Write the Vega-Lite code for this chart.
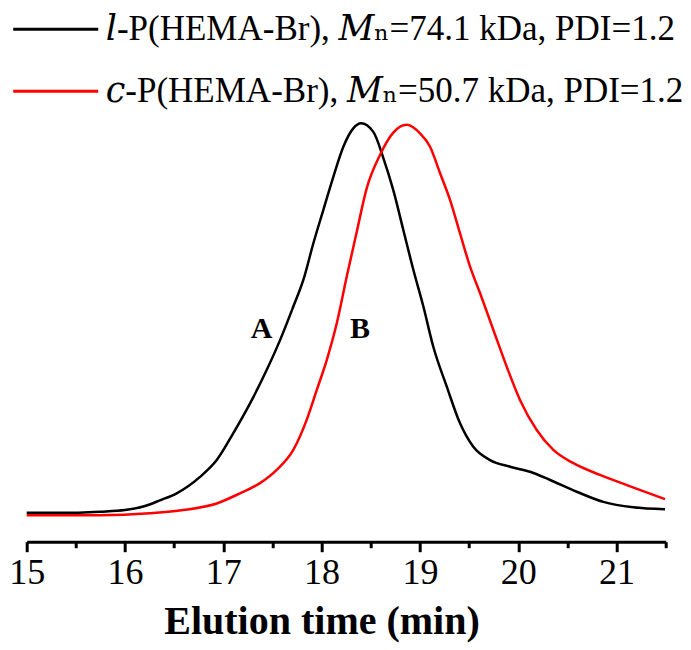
{
  "$schema": "https://vega.github.io/schema/vega-lite/v6.json",
  "width": 639,
  "height": 431.7,
  "autosize": {"type": "none"},
  "padding": {"left": 26.7, "top": 110, "right": 25.3, "bottom": 108.3},
  "background": "white",
  "config": {"view": {"stroke": null}, "font": "Liberation Serif"},
  "datasets": {
    "curves": [
      {"series": "𝑙-P(HEMA-Br), 𝑀ₙ=74.1 kDa, PDI=1.2", "t": 15.0, "v": 0.003},
      {"series": "𝑙-P(HEMA-Br), 𝑀ₙ=74.1 kDa, PDI=1.2", "t": 15.34, "v": 0.003},
      {"series": "𝑙-P(HEMA-Br), 𝑀ₙ=74.1 kDa, PDI=1.2", "t": 15.746, "v": 0.006},
      {"series": "𝑙-P(HEMA-Br), 𝑀ₙ=74.1 kDa, PDI=1.2", "t": 16.0, "v": 0.010},
      {"series": "𝑙-P(HEMA-Br), 𝑀ₙ=74.1 kDa, PDI=1.2", "t": 16.186, "v": 0.019},
      {"series": "𝑙-P(HEMA-Br), 𝑀ₙ=74.1 kDa, PDI=1.2", "t": 16.356, "v": 0.035},
      {"series": "𝑙-P(HEMA-Br), 𝑀ₙ=74.1 kDa, PDI=1.2", "t": 16.526, "v": 0.053},
      {"series": "𝑙-P(HEMA-Br), 𝑀ₙ=74.1 kDa, PDI=1.2", "t": 16.763, "v": 0.095},
      {"series": "𝑙-P(HEMA-Br), 𝑀ₙ=74.1 kDa, PDI=1.2", "t": 16.933, "v": 0.138},
      {"series": "𝑙-P(HEMA-Br), 𝑀ₙ=74.1 kDa, PDI=1.2", "t": 17.102, "v": 0.207},
      {"series": "𝑙-P(HEMA-Br), 𝑀ₙ=74.1 kDa, PDI=1.2", "t": 17.272, "v": 0.283},
      {"series": "𝑙-P(HEMA-Br), 𝑀ₙ=74.1 kDa, PDI=1.2", "t": 17.442, "v": 0.369},
      {"series": "𝑙-P(HEMA-Br), 𝑀ₙ=74.1 kDa, PDI=1.2", "t": 17.577, "v": 0.445},
      {"series": "𝑙-P(HEMA-Br), 𝑀ₙ=74.1 kDa, PDI=1.2", "t": 17.712, "v": 0.531},
      {"series": "𝑙-P(HEMA-Br), 𝑀ₙ=74.1 kDa, PDI=1.2", "t": 17.814, "v": 0.599},
      {"series": "𝑙-P(HEMA-Br), 𝑀ₙ=74.1 kDa, PDI=1.2", "t": 17.916, "v": 0.693},
      {"series": "𝑙-P(HEMA-Br), 𝑀ₙ=74.1 kDa, PDI=1.2", "t": 18.017, "v": 0.778},
      {"series": "𝑙-P(HEMA-Br), 𝑀ₙ=74.1 kDa, PDI=1.2", "t": 18.119, "v": 0.863},
      {"series": "𝑙-P(HEMA-Br), 𝑀ₙ=74.1 kDa, PDI=1.2", "t": 18.221, "v": 0.940},
      {"series": "𝑙-P(HEMA-Br), 𝑀ₙ=74.1 kDa, PDI=1.2", "t": 18.322, "v": 0.987},
      {"series": "𝑙-P(HEMA-Br), 𝑀ₙ=74.1 kDa, PDI=1.2", "t": 18.401, "v": 1.0},
      {"series": "𝑙-P(HEMA-Br), 𝑀ₙ=74.1 kDa, PDI=1.2", "t": 18.526, "v": 0.978},
      {"series": "𝑙-P(HEMA-Br), 𝑀ₙ=74.1 kDa, PDI=1.2", "t": 18.628, "v": 0.911},
      {"series": "𝑙-P(HEMA-Br), 𝑀ₙ=74.1 kDa, PDI=1.2", "t": 18.729, "v": 0.829},
      {"series": "𝑙-P(HEMA-Br), 𝑀ₙ=74.1 kDa, PDI=1.2", "t": 18.831, "v": 0.727},
      {"series": "𝑙-P(HEMA-Br), 𝑀ₙ=74.1 kDa, PDI=1.2", "t": 18.933, "v": 0.625},
      {"series": "𝑙-P(HEMA-Br), 𝑀ₙ=74.1 kDa, PDI=1.2", "t": 19.035, "v": 0.531},
      {"series": "𝑙-P(HEMA-Br), 𝑀ₙ=74.1 kDa, PDI=1.2", "t": 19.136, "v": 0.428},
      {"series": "𝑙-P(HEMA-Br), 𝑀ₙ=74.1 kDa, PDI=1.2", "t": 19.273, "v": 0.326},
      {"series": "𝑙-P(HEMA-Br), 𝑀ₙ=74.1 kDa, PDI=1.2", "t": 19.408, "v": 0.232},
      {"series": "𝑙-P(HEMA-Br), 𝑀ₙ=74.1 kDa, PDI=1.2", "t": 19.543, "v": 0.172},
      {"series": "𝑙-P(HEMA-Br), 𝑀ₙ=74.1 kDa, PDI=1.2", "t": 19.713, "v": 0.138},
      {"series": "𝑙-P(HEMA-Br), 𝑀ₙ=74.1 kDa, PDI=1.2", "t": 19.917, "v": 0.121},
      {"series": "𝑙-P(HEMA-Br), 𝑀ₙ=74.1 kDa, PDI=1.2", "t": 20.12, "v": 0.108},
      {"series": "𝑙-P(HEMA-Br), 𝑀ₙ=74.1 kDa, PDI=1.2", "t": 20.324, "v": 0.087},
      {"series": "𝑙-P(HEMA-Br), 𝑀ₙ=74.1 kDa, PDI=1.2", "t": 20.595, "v": 0.057},
      {"series": "𝑙-P(HEMA-Br), 𝑀ₙ=74.1 kDa, PDI=1.2", "t": 20.866, "v": 0.031},
      {"series": "𝑙-P(HEMA-Br), 𝑀ₙ=74.1 kDa, PDI=1.2", "t": 21.171, "v": 0.017},
      {"series": "𝑙-P(HEMA-Br), 𝑀ₙ=74.1 kDa, PDI=1.2", "t": 21.493, "v": 0.012},
      {"series": "𝑐-P(HEMA-Br), 𝑀ₙ=50.7 kDa, PDI=1.2", "t": 15.0, "v": -0.003},
      {"series": "𝑐-P(HEMA-Br), 𝑀ₙ=50.7 kDa, PDI=1.2", "t": 15.746, "v": -0.003},
      {"series": "𝑐-P(HEMA-Br), 𝑀ₙ=50.7 kDa, PDI=1.2", "t": 16.254, "v": 0.002},
      {"series": "𝑐-P(HEMA-Br), 𝑀ₙ=50.7 kDa, PDI=1.2", "t": 16.593, "v": 0.010},
      {"series": "𝑐-P(HEMA-Br), 𝑀ₙ=50.7 kDa, PDI=1.2", "t": 16.933, "v": 0.027},
      {"series": "𝑐-P(HEMA-Br), 𝑀ₙ=50.7 kDa, PDI=1.2", "t": 17.17, "v": 0.053},
      {"series": "𝑐-P(HEMA-Br), 𝑀ₙ=50.7 kDa, PDI=1.2", "t": 17.373, "v": 0.079},
      {"series": "𝑐-P(HEMA-Br), 𝑀ₙ=50.7 kDa, PDI=1.2", "t": 17.543, "v": 0.113},
      {"series": "𝑐-P(HEMA-Br), 𝑀ₙ=50.7 kDa, PDI=1.2", "t": 17.712, "v": 0.164},
      {"series": "𝑐-P(HEMA-Br), 𝑀ₙ=50.7 kDa, PDI=1.2", "t": 17.848, "v": 0.241},
      {"series": "𝑐-P(HEMA-Br), 𝑀ₙ=50.7 kDa, PDI=1.2", "t": 17.95, "v": 0.317},
      {"series": "𝑐-P(HEMA-Br), 𝑀ₙ=50.7 kDa, PDI=1.2", "t": 18.052, "v": 0.394},
      {"series": "𝑐-P(HEMA-Br), 𝑀ₙ=50.7 kDa, PDI=1.2", "t": 18.154, "v": 0.488},
      {"series": "𝑐-P(HEMA-Br), 𝑀ₙ=50.7 kDa, PDI=1.2", "t": 18.255, "v": 0.607},
      {"series": "𝑐-P(HEMA-Br), 𝑀ₙ=50.7 kDa, PDI=1.2", "t": 18.357, "v": 0.722},
      {"series": "𝑐-P(HEMA-Br), 𝑀ₙ=50.7 kDa, PDI=1.2", "t": 18.459, "v": 0.834},
      {"series": "𝑐-P(HEMA-Br), 𝑀ₙ=50.7 kDa, PDI=1.2", "t": 18.594, "v": 0.919},
      {"series": "𝑐-P(HEMA-Br), 𝑀ₙ=50.7 kDa, PDI=1.2", "t": 18.729, "v": 0.976},
      {"series": "𝑐-P(HEMA-Br), 𝑀ₙ=50.7 kDa, PDI=1.2", "t": 18.866, "v": 0.996},
      {"series": "𝑐-P(HEMA-Br), 𝑀ₙ=50.7 kDa, PDI=1.2", "t": 19.001, "v": 0.974},
      {"series": "𝑐-P(HEMA-Br), 𝑀ₙ=50.7 kDa, PDI=1.2", "t": 19.103, "v": 0.94},
      {"series": "𝑐-P(HEMA-Br), 𝑀ₙ=50.7 kDa, PDI=1.2", "t": 19.205, "v": 0.872},
      {"series": "𝑐-P(HEMA-Br), 𝑀ₙ=50.7 kDa, PDI=1.2", "t": 19.306, "v": 0.804},
      {"series": "𝑐-P(HEMA-Br), 𝑀ₙ=50.7 kDa, PDI=1.2", "t": 19.408, "v": 0.718},
      {"series": "𝑐-P(HEMA-Br), 𝑀ₙ=50.7 kDa, PDI=1.2", "t": 19.51, "v": 0.633},
      {"series": "𝑐-P(HEMA-Br), 𝑀ₙ=50.7 kDa, PDI=1.2", "t": 19.612, "v": 0.565},
      {"series": "𝑐-P(HEMA-Br), 𝑀ₙ=50.7 kDa, PDI=1.2", "t": 19.747, "v": 0.471},
      {"series": "𝑐-P(HEMA-Br), 𝑀ₙ=50.7 kDa, PDI=1.2", "t": 19.883, "v": 0.377},
      {"series": "𝑐-P(HEMA-Br), 𝑀ₙ=50.7 kDa, PDI=1.2", "t": 20.018, "v": 0.292},
      {"series": "𝑐-P(HEMA-Br), 𝑀ₙ=50.7 kDa, PDI=1.2", "t": 20.188, "v": 0.215},
      {"series": "𝑐-P(HEMA-Br), 𝑀ₙ=50.7 kDa, PDI=1.2", "t": 20.357, "v": 0.164},
      {"series": "𝑐-P(HEMA-Br), 𝑀ₙ=50.7 kDa, PDI=1.2", "t": 20.561, "v": 0.13},
      {"series": "𝑐-P(HEMA-Br), 𝑀ₙ=50.7 kDa, PDI=1.2", "t": 20.832, "v": 0.1},
      {"series": "𝑐-P(HEMA-Br), 𝑀ₙ=50.7 kDa, PDI=1.2", "t": 21.104, "v": 0.074},
      {"series": "𝑐-P(HEMA-Br), 𝑀ₙ=50.7 kDa, PDI=1.2", "t": 21.493, "v": 0.038}
    ],
    "labels": [
      {"label": "A", "t": 17.39, "v": 0.45},
      {"label": "B", "t": 18.39, "v": 0.45}
    ]
  },
  "layer": [
    {
      "data": {"name": "curves"},
      "mark": {"type": "line", "strokeWidth": 2.5, "interpolate": "monotone"},
      "encoding": {
        "x": {
          "field": "t", "type": "quantitative",
          "scale": {"domain": [15, 21.5], "nice": false, "zero": false},
          "axis": {
            "values": [15, 15.5, 16, 16.5, 17, 17.5, 18, 18.5, 19, 19.5, 20, 20.5, 21, 21.5],
            "labelExpr": "datum.value % 1 === 0 ? format(datum.value, 'd') : ''",
            "title": "Elution time (min)",
            "titleFont": "Liberation Serif", "titleFontSize": 40, "titleFontWeight": "bold", "titleColor": "black",
            "titleX": 294.8, "titleY": 91.6, "titleBaseline": "alphabetic", "titleAlign": "center",
            "labelFont": "Liberation Serif", "labelFontSize": 36, "labelColor": "black",
            "labelPadding": 4, "labelFlush": false, "labelOverlap": false,
            "domainColor": "black", "domainWidth": 3,
            "tickColor": "black", "tickWidth": 3,
            "tickSize": {"condition": {"test": "datum.value % 1 === 0", "value": 10}, "value": 6},
            "grid": false
          }
        },
        "y": {
          "field": "v", "type": "quantitative",
          "scale": {"domain": [-0.0709, 1.034], "nice": false, "zero": false},
          "axis": null
        },
        "color": {
          "field": "series", "type": "nominal",
          "scale": {
            "domain": ["𝑙-P(HEMA-Br), 𝑀ₙ=74.1 kDa, PDI=1.2", "𝑐-P(HEMA-Br), 𝑀ₙ=50.7 kDa, PDI=1.2"],
            "range": ["#000000", "#ff0000"]
          },
          "legend": {
            "orient": "none", "legendX": -15, "legendY": -124.8,
            "title": null, "symbolType": "stroke", "symbolSize": 7225, "symbolStrokeWidth": 3,
            "labelFont": "Liberation Serif, DejaVu Serif", "labelFontSize": 35, "labelColor": "black",
            "labelLimit": 700, "labelOffset": 6, "rowPadding": -26.7, "padding": 0
          }
        }
      }
    },
    {
      "data": {"name": "labels"},
      "mark": {"type": "text", "font": "Liberation Serif", "fontWeight": "bold", "fontSize": 30, "baseline": "alphabetic", "align": "center", "color": "black"},
      "encoding": {
        "x": {"field": "t", "type": "quantitative"},
        "y": {"field": "v", "type": "quantitative"},
        "text": {"field": "label"}
      }
    }
  ]
}
